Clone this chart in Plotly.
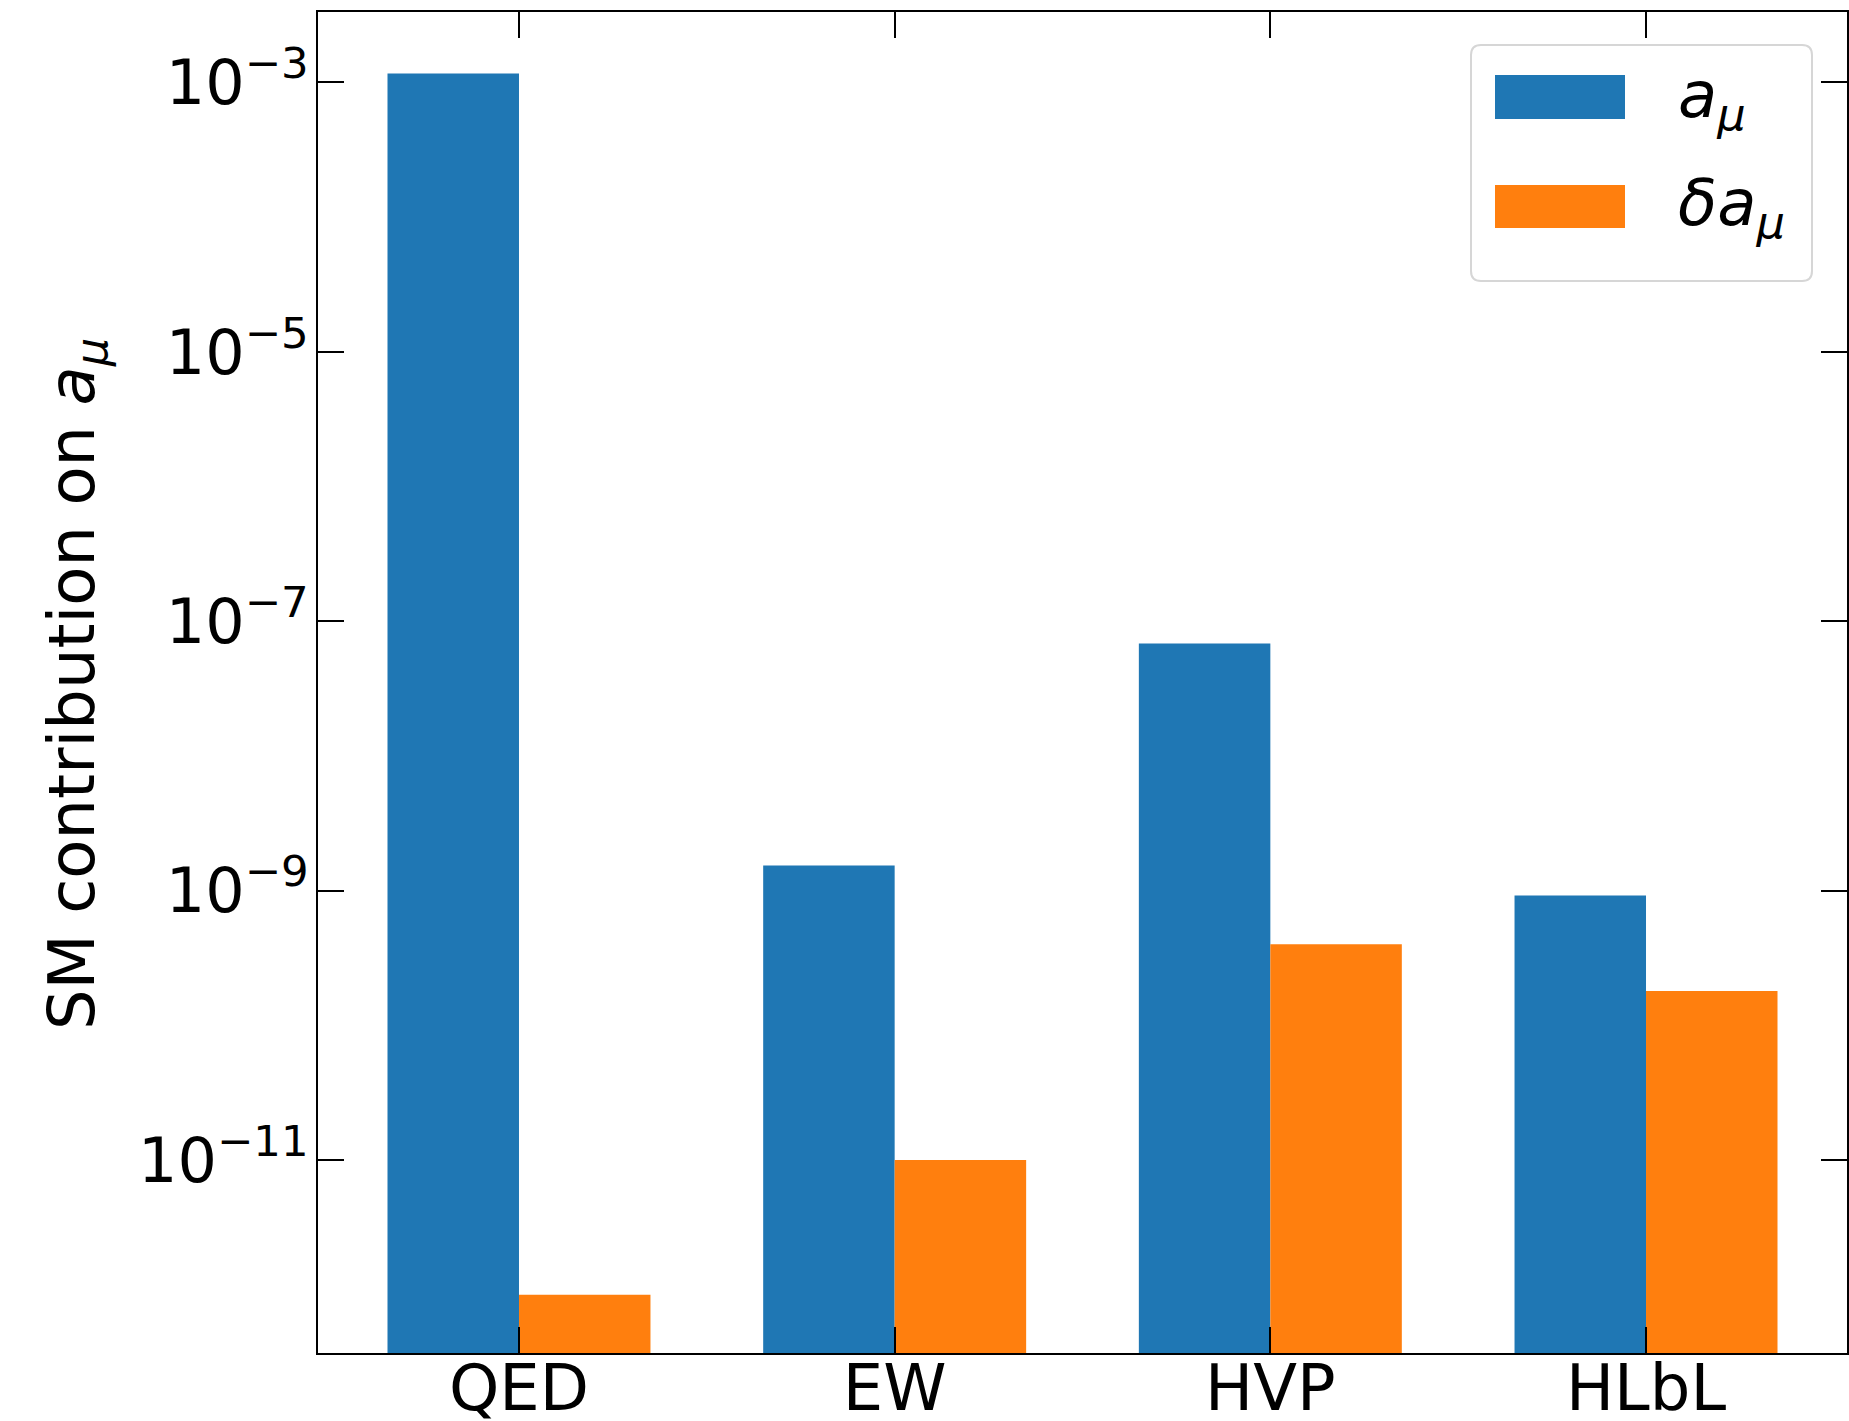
import plotly.graph_objects as go

# ---- data ----
categories = ["QED", "EW", "HVP", "HLbL"]
a_mu = [1.1658e-3, 1.536e-9, 6.845e-8, 9.2e-10]
delta_a_mu = [1.0e-12, 1.0e-11, 4.0e-10, 1.8e-10]
ytick_vals = [1e-3, 1e-5, 1e-7, 1e-9, 1e-11]
ytick_text = ["10<sup>−3</sup>", "10<sup>−5</sup>", "10<sup>−7</sup>",
              "10<sup>−9</sup>", "10<sup>−11</sup>"]
series_names = ["<i>a</i><sub><i>μ</i></sub>", "<i>δa</i><sub><i>μ</i></sub>"]
colors = ["#1f77b4", "#ff7f0e"]

W, H = 1849, 1421
L, R, T, B = 318, 1847, 12, 1353  # plot area in pixels
FONT = "DejaVu Sans"
FS = 62

positions = list(range(len(categories)))

fig = go.Figure()
fig.add_trace(go.Bar(x=positions, y=a_mu, offset=-0.35, width=0.35,
                     marker=dict(color=colors[0], line=dict(width=0)),
                     name="a_mu", showlegend=False))
fig.add_trace(go.Bar(x=positions, y=delta_a_mu, offset=0.0, width=0.35,
                     marker=dict(color=colors[1], line=dict(width=0)),
                     name="delta a_mu", showlegend=False))


def px(xp):
    return (xp - L) / (R - L)


def py(yp):
    return (B - yp) / (B - T)


# manual legend (matplotlib style), positions in screen pixels
shapes = []
x0, x1, y0, y1, rr = 1471, 1812, 45, 281, 10
path = (f"M {px(x0 + rr)},{py(y0)} L {px(x1 - rr)},{py(y0)} "
        f"Q {px(x1)},{py(y0)} {px(x1)},{py(y0 + rr)} "
        f"L {px(x1)},{py(y1 - rr)} Q {px(x1)},{py(y1)} {px(x1 - rr)},{py(y1)} "
        f"L {px(x0 + rr)},{py(y1)} Q {px(x0)},{py(y1)} {px(x0)},{py(y1 - rr)} "
        f"L {px(x0)},{py(y0 + rr)} Q {px(x0)},{py(y0)} {px(x0 + rr)},{py(y0)} Z")
shapes.append(dict(type="path", path=path, xref="paper", yref="paper",
                   line=dict(color="#d6d6d6", width=2),
                   fillcolor="rgba(255,255,255,0.8)", layer="above"))
patch_y = [(75, 119), (185, 228)]
text_y = [100, 208]
annotations = []
for i in range(2):
    shapes.append(dict(type="rect", xref="paper", yref="paper",
                       x0=px(1495), x1=px(1625), y0=py(patch_y[i][1]), y1=py(patch_y[i][0]),
                       fillcolor=colors[i], line=dict(width=0), layer="above"))
    annotations.append(dict(x=px(1676), y=py(text_y[i]), xref="paper", yref="paper",
                            text=series_names[i], showarrow=False, xanchor="left",
                            yanchor="middle", font=dict(family=FONT, size=FS + 2, color="black")))

# y axis title
annotations.append(dict(x=px(76), y=py(684), xref="paper", yref="paper",
                        text="SM contribution on <i>a</i><sub><i>μ</i></sub>",
                        showarrow=False, textangle=-90, xanchor="center", yanchor="middle",
                        font=dict(family=FONT, size=64, color="black")))

fig.update_layout(
    width=W, height=H,
    margin=dict(l=L, r=W - R, t=T, b=H - B, autoexpand=False),
    paper_bgcolor="white", plot_bgcolor="white",
    barmode="overlay",
    font=dict(family=FONT, size=FS, color="black"),
    shapes=shapes, annotations=annotations,
    showlegend=False,
)
fig.update_xaxes(
    range=[-0.535, 3.535], tickmode="array", tickvals=positions, ticktext=categories,
    ticks="inside", ticklen=26, tickwidth=2, tickcolor="black",
    showline=True, linewidth=2, linecolor="black", mirror="allticks",
    showgrid=False, zeroline=False, ticklabelstandoff=-22,
    tickfont=dict(family=FONT, size=FS + 2, color="black"),
)
fig.update_yaxes(
    type="log", range=[-12.433, -2.477], tickmode="array",
    tickvals=ytick_vals, ticktext=ytick_text,
    ticks="inside", ticklen=26, tickwidth=2, tickcolor="black",
    showline=True, linewidth=2, linecolor="black", mirror="allticks",
    showgrid=False, zeroline=False, ticklabelstandoff=-5,
    tickfont=dict(family=FONT, size=FS, color="black"),
)

fig.write_html("out.html",
               config={"displayModeBar": False},
               post_script="document.body.style.margin='0px';"
                           "document.body.style.overflow='hidden';")
